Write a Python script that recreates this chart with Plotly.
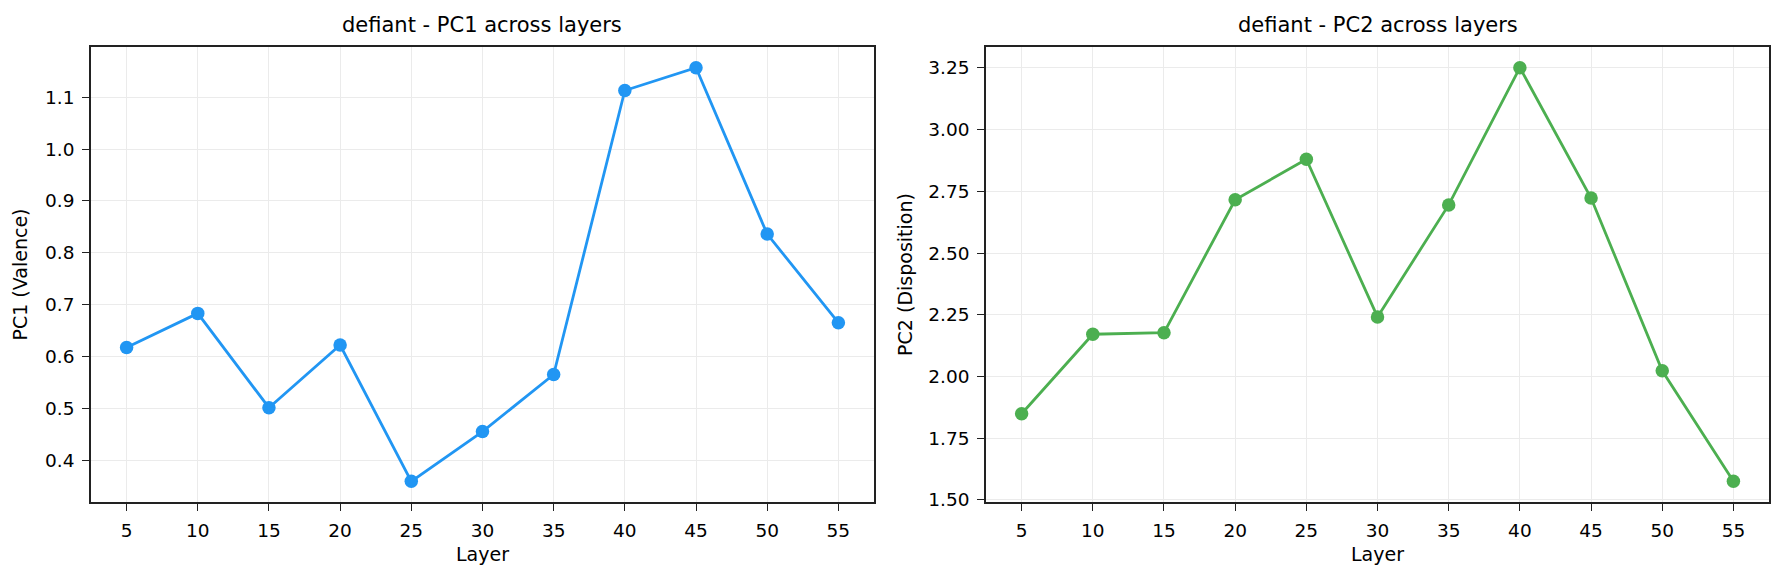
import plotly.graph_objects as go
from plotly.subplots import make_subplots

# layers sampled
layers = [5, 10, 15, 20, 25, 30, 35, 40, 45, 50, 55]
# PC1 (Valence) per layer
pc1 = [0.617, 0.683, 0.501, 0.622, 0.359, 0.455, 0.565, 1.113, 1.157, 0.836, 0.665]
# PC2 (Disposition) per layer
pc2 = [1.849, 2.171, 2.177, 2.716, 2.880, 2.241, 2.695, 3.251, 2.723, 2.023, 1.575]

model = 'defiant'
FONT = 'DejaVu Sans'


def padded(vals, frac=0.05):
    # matplotlib style auto margins
    lo, hi = min(vals), max(vals)
    span = hi - lo
    return [lo - span * frac, hi + span * frac]


fig = make_subplots(rows=1, cols=2)

fig.add_trace(go.Scatter(x=layers, y=pc1, mode='lines+markers',
                         line=dict(color='#2196F3', width=2.8),
                         marker=dict(color='#2196F3', size=13.5),
                         showlegend=False), row=1, col=1)
fig.add_trace(go.Scatter(x=layers, y=pc2, mode='lines+markers',
                         line=dict(color='#4CAF50', width=2.8),
                         marker=dict(color='#4CAF50', size=13.5),
                         showlegend=False), row=1, col=2)

label_font = dict(size=19, color='black', family=FONT)
axis_style = dict(showline=True, linecolor='#222222', linewidth=1.6, mirror=True,
                  ticks='outside', ticklen=7, tickwidth=1.4, tickcolor='#222222',
                  showgrid=True, gridcolor='#ebebeb', gridwidth=1.4,
                  zeroline=False, tickfont=dict(size=18.5, color='black', family=FONT),
                  ticklabelstandoff=4)

fig.update_xaxes(**axis_style, tickmode='array', tickvals=layers,
                 range=padded(layers),
                 title=dict(text='Layer', font=label_font, standoff=8))
fig.update_yaxes(**axis_style)

fig.update_xaxes(domain=[0, 0.4666], row=1, col=1)
fig.update_xaxes(domain=[0.5334, 1], row=1, col=2)

fig.update_yaxes(range=padded(pc1), dtick=0.1, tick0=0, tickformat='.1f',
                 title=dict(text='PC1 (Valence)', font=label_font, standoff=12),
                 row=1, col=1)
fig.update_yaxes(range=padded(pc2), dtick=0.25, tick0=0, tickformat='.2f',
                 title=dict(text='PC2 (Disposition)', font=label_font, standoff=11),
                 row=1, col=2)

# subplot titles
for dom, txt in [([0, 0.4666], model + ' - PC1 across layers'),
                 ([0.5334, 1], model + ' - PC2 across layers')]:
    fig.add_annotation(text=txt, xref='paper', yref='paper',
                       x=(dom[0] + dom[1]) / 2, y=1, yshift=8,
                       xanchor='center', yanchor='bottom', showarrow=False,
                       font=dict(size=21, color='black', family=FONT))

fig.update_layout(width=1784, height=581,
                  margin=dict(l=91, r=15, t=47, b=79, autoexpand=False),
                  plot_bgcolor='white', paper_bgcolor='white',
                  font=dict(family=FONT, color='black'))

# drop the page's default body margin so the figure sits at the window origin
fig.write_html('out.html', config={'displayModeBar': False},
               post_script="document.body.style.margin='0';")
